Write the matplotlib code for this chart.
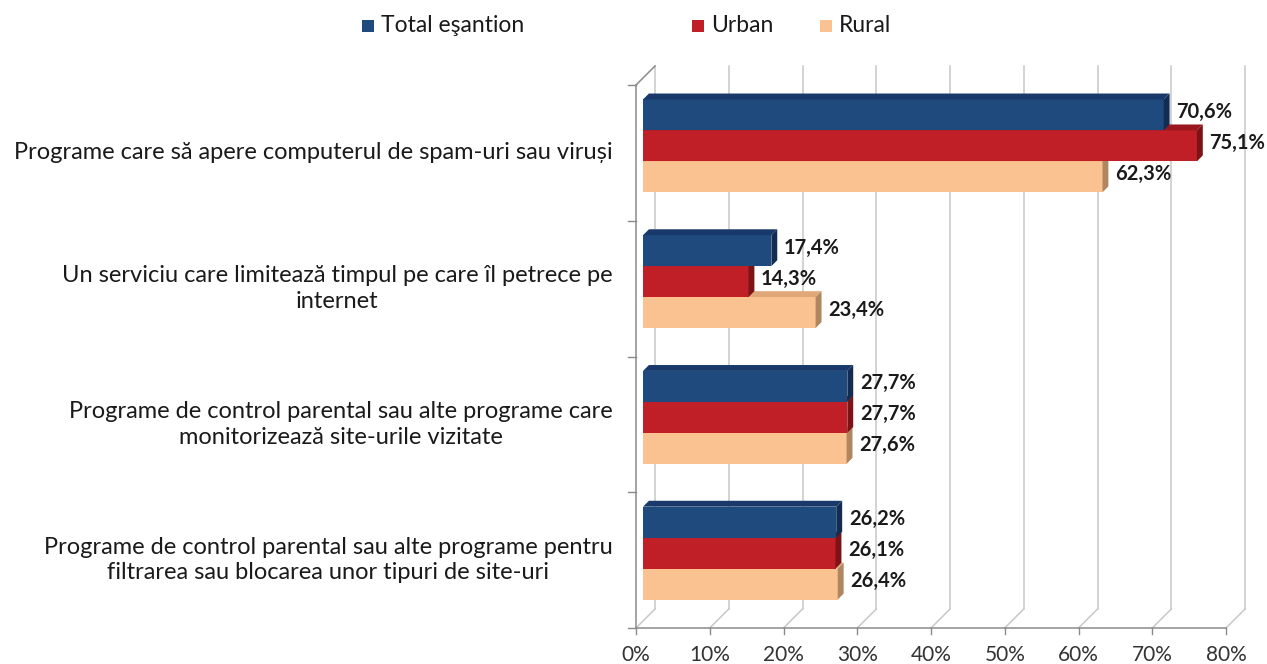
import matplotlib
matplotlib.use('Agg')
import matplotlib.pyplot as plt
from matplotlib.patches import Polygon, Rectangle

plt.rcParams['font.family'] = ['Lato', 'DejaVu Sans']

# categories listed bottom to top
categories = [
    "Programe de control parental sau alte programe pentru\nfiltrarea sau blocarea unor tipuri de site-uri",
    "Programe de control parental sau alte programe care\nmonitorizează site-urile vizitate",
    "Un serviciu care limitează timpul pe care îl petrece pe\ninternet",
    "Programe care să apere computerul de spam-uri sau viruși",
]
series = ["Total eşantion", "Urban", "Rural"]
total = [26.2, 27.7, 17.4, 70.6]
urban = [26.1, 27.7, 14.3, 75.1]
rural = [26.4, 27.6, 23.4, 62.3]
xticks = [0, 10, 20, 30, 40, 50, 60, 70, 80]

# front, top, side shades for each series
shades = [
    ("#1f4a7e", "#18396a", "#132c52"),
    ("#c01f27", "#9a171d", "#7d1217"),
    ("#fac290", "#e0a878", "#b08660"),
]

W, H = 1267, 664
fig = plt.figure(figsize=(W / 100, H / 100), dpi=100)
ax = fig.add_axes([636 / W, 1 - 628 / H, 590 / W, 543 / H])
ax.set_xlim(0, 80)
ax.set_ylim(0, 4)
ax.axis('off')

# oblique depth vector in data units
DX, DY = 2.58, 0.14
grid_c = "#c8c8c8"
axis_c = "#8a8a8a"

# back wall gridlines and floor diagonals
for t in xticks:
    ax.plot([t + DX, t + DX], [DY, 4 + DY], color=grid_c, lw=1.1, clip_on=False, zorder=1)
    ax.plot([t, t + DX], [0, DY], color=grid_c, lw=1.1, clip_on=False, zorder=1)
    ax.plot([t, t], [0, -0.045], color=axis_c, lw=1, clip_on=False, zorder=1)
    ax.text(t, -0.2, f"{t}%", ha='center', va='center', fontsize=15, color="#333333")

# left wall and floor edge
ax.plot([0, 0], [0, 4], color=axis_c, lw=1.1, clip_on=False, zorder=1)
ax.plot([0, DX], [4, 4 + DY], color=axis_c, lw=1.1, clip_on=False, zorder=1)
ax.plot([0, 80], [0, 0], color=axis_c, lw=1.1, clip_on=False, zorder=1)
for k in range(5):
    ax.plot([-1.1, 0], [k, k], color=axis_c, lw=1, clip_on=False, zorder=1)

# bars: depth of the front and back faces
d1, d2 = 0.37, 0.68
h = 0.228
values = [total, urban, rural]
offsets = [h, 0, -h]
z = 2
for i in range(len(categories)):
    c = i + 0.5 + d1 * DY
    # draw the lowest bar first so upper bars cover hidden faces
    for j in [2, 1, 0]:
        v = values[j][i]
        front, top, side = shades[j]
        y0 = c + offsets[j] - h / 2
        y1 = y0 + h
        x0 = d1 * DX
        x1 = v + d1 * DX
        ddx = (d2 - d1) * DX
        ddy = (d2 - d1) * DY
        ax.add_patch(Rectangle((x0, y0), x1 - x0, h, facecolor=front,
                               edgecolor='none', clip_on=False, zorder=z))
        ax.add_patch(Polygon([(x0, y1), (x1, y1), (x1 + ddx, y1 + ddy), (x0 + ddx, y1 + ddy)],
                             closed=True, facecolor=top, edgecolor='none', clip_on=False, zorder=z))
        ax.add_patch(Polygon([(x1, y0), (x1, y1), (x1 + ddx, y1 + ddy), (x1 + ddx, y0 + ddy)],
                             closed=True, facecolor=side, edgecolor='none', clip_on=False, zorder=z))
        ax.text(v + d2 * DX + 0.9, (y0 + y1) / 2 + ddy / 2,
                f"{v:.1f}%".replace('.', ','), ha='left', va='center',
                fontsize=14.5, fontweight='bold', color="#1a1a1a", zorder=10)
        z += 1
    ax.text(-3.2, i + 0.5, categories[i], ha='right', va='center', ma='center',
            fontsize=17, color="#1a1a1a", linespacing=1.25)

# legend
leg_x = [362, 692, 820]
for name, (front, _, _), lx in zip(series, shades, leg_x):
    fig.patches.append(Rectangle((lx / W, 1 - 32 / H), 12 / W, 12 / H, facecolor=front,
                                 edgecolor='none', transform=fig.transFigure))
    fig.text((lx + 19) / W, 1 - 26 / H, name, ha='left', va='center', fontsize=16.5, color="#1a1a1a")

fig.savefig("out.png", dpi=100, facecolor='white')
